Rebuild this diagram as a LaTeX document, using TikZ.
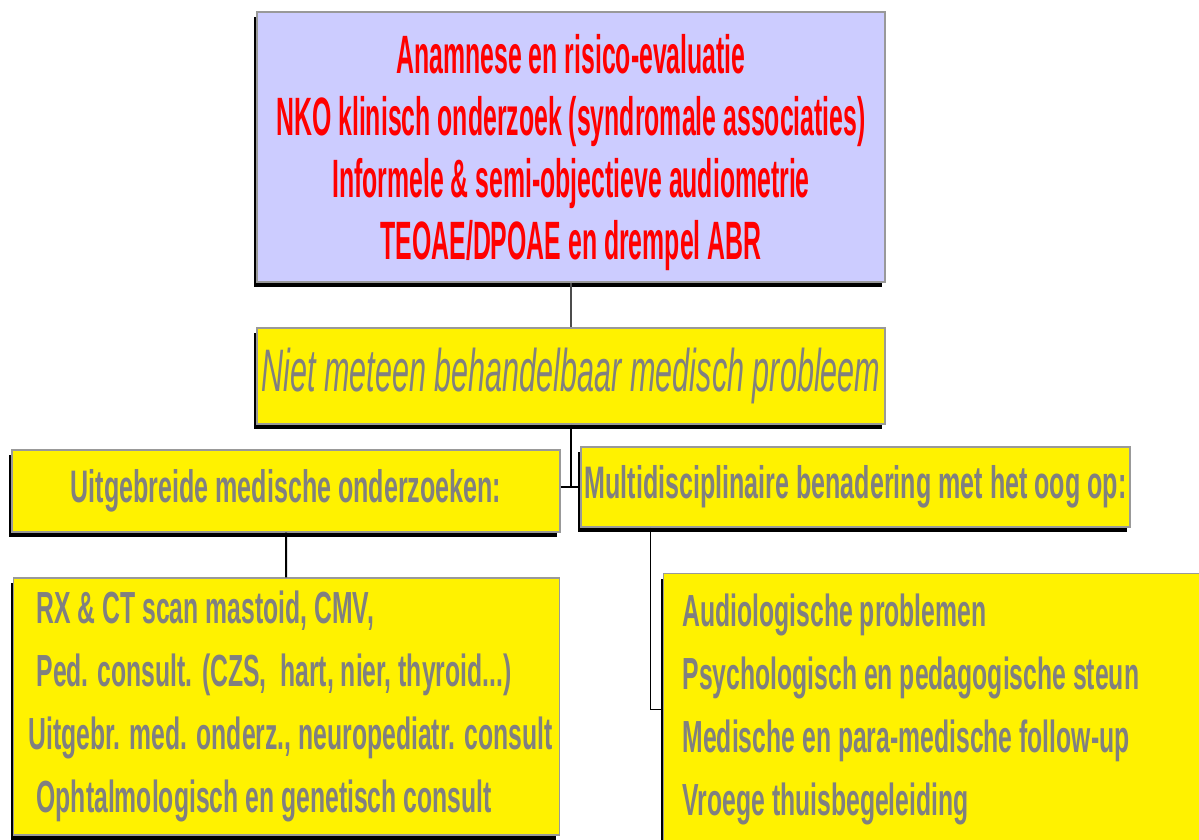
\documentclass[tikz,border=0pt]{standalone}
\usepackage{fontspec}
\setmainfont{Liberation Sans}
\newfontfamily\condfont[FakeStretch=0.55]{Liberation Sans}
\newfontfamily\tightfont[FakeStretch=0.46]{Liberation Sans}
\newfontfamily\slantfont[FakeStretch=0.51]{Liberation Sans}
\usetikzlibrary{shadows}
\definecolor{lavender}{HTML}{CCCCFF}
\definecolor{boxgray}{HTML}{999999}
\definecolor{textgray}{HTML}{808080}

\tikzset{
  shade box/.style={draw=boxgray, line width=0.6pt,
    drop shadow={shadow xshift=-1.5pt, shadow yshift=-2.5pt, fill=black, opacity=1}},
  redbox/.style={shade box, fill=lavender, text=red, align=center,
    font=\tightfont\bfseries\fontsize{27}{31}\selectfont},
  yellowbox/.style={shade box, fill=yellow, text=textgray},
  link/.style={draw=black, line width=0.6pt}
}

\begin{document}
\begin{tikzpicture}[x=0.5pt, y=-0.5pt]
  \useasboundingbox (0,0) rectangle (1199,840);

  \node[redbox, minimum width=314pt, minimum height=135pt, inner xsep=2pt] (risk) at (571,147)
    {\rule{0pt}{25.5pt}Anamnese en risico-evaluatie\\
     NKO klinisch onderzoek (syndromale associaties)\\
     Informele \& semi-objectieve audiometrie\\
     TEOAE/DPOAE en drempel ABR};

  \node[yellowbox, minimum width=314pt, minimum height=48pt, inner xsep=2pt,
        font=\slantfont\itshape\fontsize{30}{34}\selectfont] (prob) at (571,376)
    {Niet meteen behandelbaar medisch probleem};

  \node[yellowbox, minimum width=274pt, minimum height=41pt,
        font=\condfont\bfseries\fontsize{22.8}{25}\selectfont] (med) at (286,491)
    {Uitgebreide medische onderzoeken:};

  \node[yellowbox, minimum width=274.5pt, minimum height=40pt, inner xsep=1pt,
        font=\condfont\bfseries\fontsize{22.8}{25}\selectfont] (multi) at (855.5,487)
    {Multidisciplinaire benadering met het oog op:};

  \node[yellowbox, minimum width=269.5pt, minimum height=128.5pt, align=left,
        font=\condfont\bfseries\fontsize{22.5}{31.5}\selectfont] (tests) at (286.5,706.5)
    {\hspace{8pt}RX \& CT scan mastoid, CMV,\\
     \hspace{8pt}Ped. consult. (CZS,~ hart, nier, thyroid...)\\
     \hspace{4pt}Uitgebr. med. onderz., neuropediatr. consult\\
     \hspace{8pt}Ophtalmologisch en genetisch consult};

  \node[yellowbox, anchor=north west, minimum width=273.5pt, minimum height=136pt,
        text width=254.5pt, inner xsep=8.5pt, align=left,
        font=\condfont\bfseries\fontsize{22.5}{31.5}\selectfont] (care) at (663,573)
    {\spaceskip=0pt \xspaceskip=0pt
     Audiologische problemen\\
     Psychologisch en pedagogische steun\\
     Medische en para-medische follow-up\\
     Vroege thuisbegeleiding};

  \coordinate (split) at (571,487);
  \draw[link, draw=black!70] (risk) -- (prob);
  \draw[link] (prob) -- (split);
  \draw[link] (med.east |- split) -- (multi.west);
  \draw[link, line width=1pt] (med) -- (tests);
  \draw[link] ([xshift=35pt]multi.south west) |- (care.west);
\end{tikzpicture}
\end{document}
